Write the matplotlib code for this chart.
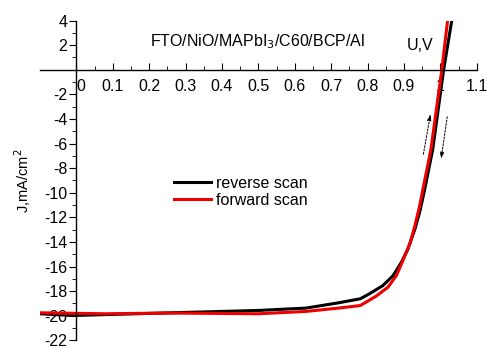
import matplotlib.pyplot as plt

plt.rcParams['font.family'] = ['Liberation Sans', 'DejaVu Sans']

# J-V data (U in V, J in mA/cm2)
u_reverse = [-0.10, -0.01, 0.26, 0.50, 0.63, 0.72, 0.78, 0.806, 0.842, 0.870, 0.893,
             0.911, 0.930, 0.943, 0.957, 0.979, 1.009, 1.033]
j_reverse = [-19.84, -19.98, -19.76, -19.57, -19.38, -18.95, -18.62, -18.2, -17.55,
             -16.74, -15.65, -14.57, -12.96, -11.6, -9.72, -6.48, 0.0, 4.3]
u_forward = [-0.10, 0.08, 0.26, 0.50, 0.63, 0.72, 0.78, 0.824, 0.856, 0.879, 0.897,
             0.916, 0.930, 0.943, 0.952, 0.974, 1.004, 1.021]
j_forward = [-19.76, -19.84, -19.78, -19.84, -19.65, -19.38, -19.17, -18.4, -17.68,
             -16.74, -15.52, -14.17, -12.69, -11.07, -9.72, -6.48, 0.0, 4.3]

x_ticks = [0, 0.1, 0.2, 0.3, 0.4, 0.5, 0.6, 0.7, 0.8, 0.9, 1.0, 1.1]
y_ticks = [4, 2, -2, -4, -6, -8, -10, -12, -14, -16, -18, -20, -22]

fig = plt.figure(figsize=(4.87, 3.48), dpi=100)
ax = fig.add_axes([0.082, 0.022, 0.897, 0.919])

ax.plot(u_reverse, j_reverse, color='black', lw=2.2, label='reverse scan')
ax.plot(u_forward, j_forward, color='#ee0000', lw=2.2, label='forward scan')

ax.set_xlim(-0.1, 1.1)
ax.set_ylim(-22, 4)

# axes crossing at the origin
ax.spines['left'].set_position(('data', 0))
ax.spines['bottom'].set_position(('data', 0))
ax.spines['top'].set_visible(False)
ax.spines['right'].set_visible(False)
ax.spines['left'].set_linewidth(1.0)
ax.spines['bottom'].set_linewidth(1.0)

ax.set_xticks(x_ticks)
ax.set_xticks([v + 0.05 for v in x_ticks[:-1]], minor=True)
ax.set_xticklabels([f'{v:g}' for v in x_ticks], fontsize=11.5)
ax.get_xticklabels()[0].set_horizontalalignment('left')
ax.tick_params(axis='x', which='major', direction='in', length=5, pad=7)
ax.tick_params(axis='x', which='minor', direction='in', length=3)

ax.set_yticks(y_ticks)
ax.set_yticks([v + 1 for v in range(-22, 4, 2)], minor=True)
ax.set_yticklabels([f'{v:g}' for v in y_ticks], fontsize=11.5)
ax.tick_params(axis='y', which='major', direction='out', length=5, pad=1.5)
ax.tick_params(axis='y', which='minor', direction='out', length=3)

ax.text(0.498, 2.27, 'FTO/NiO/MAPbI$_3$/C60/BCP/Al', fontsize=11.5,
        ha='center', va='center')
ax.text(0.944, 2.0, 'U,V', fontsize=11.5, ha='center', va='center')
fig.text(0.047, 0.48, 'J,mA/cm$^2$', fontsize=10.5, rotation=90,
         ha='center', va='center')

# scan direction arrows
ax.annotate('', xy=(0.974, -3.4), xytext=(0.952, -7.1),
            arrowprops=dict(arrowstyle='-|>,head_length=0.35,head_width=0.12',
                            color='black', lw=0.7, ls=(0, (2, 1.5))))
ax.annotate('', xy=(1.001, -7.45), xytext=(1.020, -3.6),
            arrowprops=dict(arrowstyle='-|>,head_length=0.35,head_width=0.12',
                            color='black', lw=0.7, ls=(0, (2, 1.5))))

ax.legend(loc='upper left', bbox_to_anchor=(0.308, 0.515), frameon=False,
          fontsize=11.5, handlelength=2.3, handletextpad=0.3,
          labelspacing=0.15, borderpad=0, borderaxespad=0)

plt.savefig('out.png', dpi=100)
